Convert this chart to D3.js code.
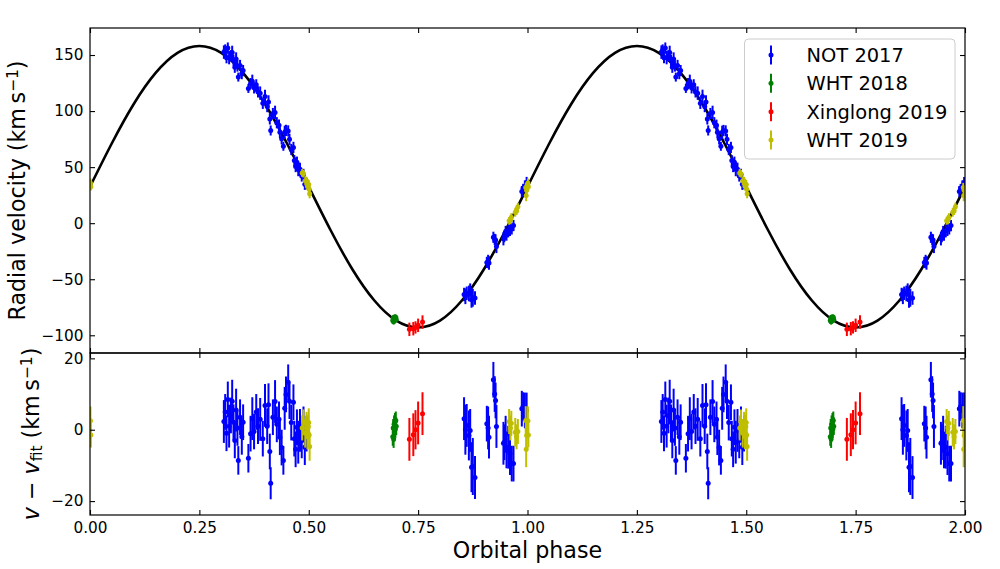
<!DOCTYPE html>
<html>
<head>
<meta charset="utf-8">
<script src="https://cdn.jsdelivr.net/npm/d3@7"></script>
<style>
  html, body { margin: 0; padding: 0; background: #fff; }
  svg { display: block; font-family: "DejaVu Sans", sans-serif; }
</style>
</head>
<body>
<svg id="chart" width="1000" height="569"></svg>
<script>
// ---------------- DATA (phases folded into [0,1); plotted twice) ----------------
// NOT 2017
const notPhase = [0.306,0.309,0.312,0.315,0.318,0.322,0.325,0.328,0.331,0.334,0.337,0.339,0.343,0.347,0.350,
  0.362,0.367,0.371,0.375,0.380,0.384,0.389,0.395,0.400,0.405,0.408,0.411,0.413,0.418,0.423,0.427,0.432,0.434,
  0.438,0.442,0.445,0.448,0.453,0.456,0.460,0.465,0.467,0.470,0.473,0.476,0.480,0.484,0.488,0.491,0.495,
  0.855,0.858,0.861,0.866,0.869,0.872,0.875,0.880,0.907,0.910,0.912,0.922,0.925,0.927,0.929,
  0.945,0.947,0.950,0.952,0.956,0.960,0.964,0.968,0.987,0.990,0.994,0.998];
const notRv = [152.6,154.5,147.6,156.2,147.7,149.4,152.3,145.3,139.1,146.4,140.2,130.3,140.7,133.4,136.1,
  120.2,124.5,126.5,120.7,123.4,117.1,116.0,106.9,113.1,104.0,108.1,93.0,82.7,97.8,98.8,89.6,87.4,81.0,
  75.2,68.6,81.0,82.7,82.3,74.8,65.7,67.6,55.8,50.5,54.4,47.9,48.0,42.1,43.5,34.7,35.3,
  -63.6,-65.2,-62.5,-62.7,-59.7,-68.4,-66.5,-66.8,-35.0,-34.2,-35.5,-12.6,-14.5,-14.9,-20.7,
  -13.8,-12.0,-7.4,-10.6,-6.7,-5.4,-5.1,-2.1,28.2,31.1,33.2,36.3];
const notRes = [2.3,5.0,-1.0,8.5,1.0,4.0,8.0,2.1,-3.0,5.5,0.5,-8.6,3.5,-2.0,2.1,
  -8.0,-1.1,3.1,-0.5,5.0,1.0,2.9,-2.5,6.8,1.0,7.0,-6.1,-15.0,3.5,7.9,1.5,2.9,-2.1,
  -5.0,-8.6,6.0,9.9,13.3,8.0,2.0,7.7,-2.5,-5.5,0.7,-3.5,-0.2,-3.0,1.5,-4.9,-1.1,
  3.1,0.0,1.2,-1.6,-0.2,-10.5,-10.3,-13.4,1.7,0.5,-2.1,14.0,10.0,8.2,0.9,
  -3.8,-3.5,-1.1,-5.8,-4.9,-6.7,-9.5,-9.5,5.9,6.5,5.4,5.4];
const notErr = [6,5,5,5,6,5,6,5,5,6,5,4,5,5,5,
  4,5,6,5,5,5,6,5,6,5,6,5,4.5,5,6,5,5,5,
  5,4,6,5,5,5,5,5,5,5,5,6,6,5,5,5,5,
  6,7,6,7,6,7,8,6,5,6,6,5,5,5,6,
  6,5,5,5,6,6,5,5,5,4,5,5];

// WHT 2018
const whtAPhase = [0.692,0.693,0.694,0.695,0.696,0.697,0.698,0.699,0.700];
const whtARv    = [-86.8,-84.5,-87.9,-84.1,-86.6,-83.9,-86.2,-84.0,-85.9];
const whtARes   = [-2.0,0.5,-2.6,1.5,-0.8,2.2,0.2,2.6,1.0];
const whtAErr   = [2.5,2.5,2.5,2.5,2.5,2.5,2.5,2.5,2.5];

// Xinglong 2019
const xlPhase = [0.730,0.739,0.744,0.750,0.760];
const xlRv    = [-94.7,-94.1,-93.0,-91.1,-88.2];
const xlRes   = [-2.7,-1.4,0.0,1.9,4.5];
const xlErr   = [6,6,5.5,6,6];

// WHT 2019
const whtBPhase = [0.485,0.488,0.492,0.495,0.497,0.499,0.500,0.501,0.502,
  0.958,0.961,0.963,0.972,0.975,0.978,0.996,0.997,0.998,0.001,0.002];
const whtBRv    = [44.8,44.2,37.8,37.9,32.9,34.1,34.5,30.2,26.2,
  2.1,2.6,5.4,9.8,10.9,14.7,31.9,24.6,29.3,35.8,32.6];
const whtBRes   = [0.5,2.2,-1.0,1.5,-2.0,0.8,2.0,-1.5,-4.7,
  2.3,0.5,1.8,-0.7,-2.0,-0.5,2.6,-5.5,-1.6,2.5,-1.5];
const whtBErr   = [3.5,3.5,4,3.5,3.5,3.5,4,3.5,4,
  3.5,3.5,3.5,4,3.5,3.5,4,5,4,4,3.5];

// Best-fit orbit at phase steps of 0.05
const fitPhase = [0,0.05,0.10,0.15,0.20,0.25,0.30,0.35,0.40,0.45,0.50,0.55,0.60,0.65,0.70,0.75,0.80,0.85,0.90,0.95,1.00];
const fitRv    = [32.5,71.3,106.3,134.0,151.9,158.0,151.9,134.0,106.3,71.3,32.5,-6.3,-41.3,-69.0,-86.9,-93.0,-86.9,-69.0,-41.3,-6.3,32.5];

const xTicks = [0,0.25,0.5,0.75,1.0,1.25,1.5,1.75,2.0];
const yTopTicks = [-100,-50,0,50,100,150];
const yBotTicks = [-20,0,20];

const seriesNames  = ["NOT 2017","WHT 2018","Xinglong 2019","WHT 2019"];
const seriesColors = ["#0000ff","#008000","#ff0000","#bfbf00"];

// ---------------- LAYOUT ----------------
const L = 90, R = 965, T1 = 28, B1 = 353, T2 = 353, B2 = 515;
const svg = d3.select("#chart");
svg.append("rect").attr("width",1000).attr("height",569).attr("fill","#fff");

const x = d3.scaleLinear().domain([0,2]).range([L,R]);
const yTop = d3.scaleLinear().domain([-115.8,174.1]).range([B1,T1]);
const yBot = d3.scaleLinear().domain([-23.9,21.5]).range([B2,T2]);

const defs = svg.append("defs");
defs.append("clipPath").attr("id","clipTop").append("rect")
  .attr("x",L).attr("y",T1).attr("width",R-L).attr("height",B1-T1);
defs.append("clipPath").attr("id","clipBot").append("rect")
  .attr("x",L).attr("y",T2).attr("width",R-L).attr("height",B2-T2);

const gTop = svg.append("g").attr("clip-path","url(#clipTop)");
const gBot = svg.append("g").attr("clip-path","url(#clipBot)");

// fit curve, two cycles
const curvePts = [];
fitPhase.forEach((p,i)=>curvePts.push([p,fitRv[i]]));
fitPhase.forEach((p,i)=>{ if(i>0) curvePts.push([p+1,fitRv[i]]); });
gTop.append("path")
  .attr("d", d3.line().x(d=>x(d[0])).y(d=>yTop(d[1])).curve(d3.curveNatural)(curvePts))
  .attr("fill","none").attr("stroke","#000").attr("stroke-width",2.6);

function buildSeries(ph, rv, res, err){
  const out = [];
  ph.forEach((p,i)=>{
    [0,1].forEach(k=>out.push({p:p+k, rv:rv[i], res:res[i], e:err[i]}));
  });
  return out;
}
const allSeries = [
  buildSeries(notPhase, notRv, notRes, notErr),
  buildSeries(whtAPhase, whtARv, whtARes, whtAErr),
  buildSeries(xlPhase, xlRv, xlRes, xlErr),
  buildSeries(whtBPhase, whtBRv, whtBRes, whtBErr)
];

function drawErr(g, data, yS, key, color){
  const gg = g.append("g");
  gg.selectAll("line").data(data).join("line")
    .attr("x1",d=>x(d.p)).attr("x2",d=>x(d.p))
    .attr("y1",d=>yS(d[key]-d.e)).attr("y2",d=>yS(d[key]+d.e))
    .attr("stroke",color).attr("stroke-width",2);
  gg.selectAll("circle").data(data).join("circle")
    .attr("cx",d=>x(d.p)).attr("cy",d=>yS(d[key])).attr("r",2.5)
    .attr("fill",color);
}
allSeries.forEach((s,i)=>{
  drawErr(gTop, s, yTop, "rv", seriesColors[i]);
  drawErr(gBot, s, yBot, "res", seriesColors[i]);
});

// ---------------- AXES ----------------
const TS = 5, FS = "15.3px";
function styleAxis(g){
  g.select(".domain").remove();
  g.selectAll(".tick line").attr("stroke","#000").attr("stroke-width",1.1);
  g.selectAll(".tick text").attr("fill","#000").style("font-size",FS).style("font-family","DejaVu Sans");
}
// top panel
styleAxis(svg.append("g").attr("transform",`translate(${L},0)`)
  .call(d3.axisLeft(yTop).tickValues(yTopTicks).tickSizeInner(-TS).tickSizeOuter(0).tickPadding(6.5)));
styleAxis(svg.append("g").attr("transform",`translate(${R},0)`)
  .call(d3.axisRight(yTop).tickValues(yTopTicks).tickSizeInner(-TS).tickSizeOuter(0).tickFormat("")));
styleAxis(svg.append("g").attr("transform",`translate(0,${T1})`)
  .call(d3.axisTop(x).tickValues(xTicks).tickSizeInner(-TS).tickSizeOuter(0).tickFormat("")));
styleAxis(svg.append("g").attr("transform",`translate(0,${B1})`)
  .call(d3.axisBottom(x).tickValues(xTicks).tickSizeInner(-TS).tickSizeOuter(0).tickFormat("")));
// bottom panel
styleAxis(svg.append("g").attr("transform",`translate(${L},0)`)
  .call(d3.axisLeft(yBot).tickValues(yBotTicks).tickSizeInner(-TS).tickSizeOuter(0).tickPadding(6.5)));
styleAxis(svg.append("g").attr("transform",`translate(${R},0)`)
  .call(d3.axisRight(yBot).tickValues(yBotTicks).tickSizeInner(-TS).tickSizeOuter(0).tickFormat("")));
styleAxis(svg.append("g").attr("transform",`translate(0,${T2})`)
  .call(d3.axisTop(x).tickValues(xTicks).tickSizeInner(-TS).tickSizeOuter(0).tickFormat("")));
styleAxis(svg.append("g").attr("transform",`translate(0,${B2})`)
  .call(d3.axisBottom(x).tickValues(xTicks).tickSizeInner(-TS).tickSizeOuter(0).tickPadding(7.5).tickFormat(d3.format(".2f"))));

// frames
[[T1,B1],[T2,B2]].forEach(([t,b])=>{
  svg.append("rect").attr("x",L).attr("y",t).attr("width",R-L).attr("height",b-t)
    .attr("fill","none").attr("stroke","#000").attr("stroke-width",1.2);
});

// ---------------- LABELS ----------------
const LFS = 22.2;
svg.append("text").attr("x",(L+R)/2).attr("y",558).attr("text-anchor","middle")
  .style("font-size",LFS+"px").attr("fill","#000").text("Orbital phase");

const yl1 = svg.append("text").attr("transform",`translate(25,${(T1+B1)/2}) rotate(-90)`)
  .attr("text-anchor","middle").style("font-size",LFS+"px").attr("fill","#000");
yl1.append("tspan").text("Radial velocity (km\u2009s");
yl1.append("tspan").attr("dy","-0.45em").style("font-size","70%").text("\u22121");
yl1.append("tspan").attr("dy","0.315em").text(")");

const yl2 = svg.append("text").attr("transform",`translate(38.5,${(T2+B2)/2}) rotate(-90)`)
  .attr("text-anchor","middle").style("font-size",LFS+"px").attr("fill","#000");
yl2.append("tspan").style("font-style","italic").text("v");
yl2.append("tspan").text(" \u2212 ");
yl2.append("tspan").style("font-style","italic").text("v");
yl2.append("tspan").attr("dy","0.2em").style("font-size","70%").text("fit");
yl2.append("tspan").attr("dy","-0.14em").text(" (km\u2009s");
yl2.append("tspan").attr("dy","-0.45em").style("font-size","70%").text("\u22121");
yl2.append("tspan").attr("dy","0.315em").text(")");

// ---------------- LEGEND ----------------
const lg = svg.append("g");
lg.append("rect").attr("x",744.5).attr("y",39).attr("width",210.5).attr("height",120)
  .attr("rx",4).attr("fill","#fff").attr("fill-opacity",0.8)
  .attr("stroke","#cccccc").attr("stroke-width",1);
seriesNames.forEach((name,i)=>{
  const cy = 55 + i*28.35;
  lg.append("line").attr("x1",771).attr("x2",771).attr("y1",cy-9.5).attr("y2",cy+9.5)
    .attr("stroke",seriesColors[i]).attr("stroke-width",2);
  lg.append("circle").attr("cx",771).attr("cy",cy).attr("r",2.5).attr("fill",seriesColors[i]);
  lg.append("text").attr("x",806.5).attr("y",cy+7.1).style("font-size","19.44px")
    .attr("fill","#000").text(name);
});
</script>
</body>
</html>
